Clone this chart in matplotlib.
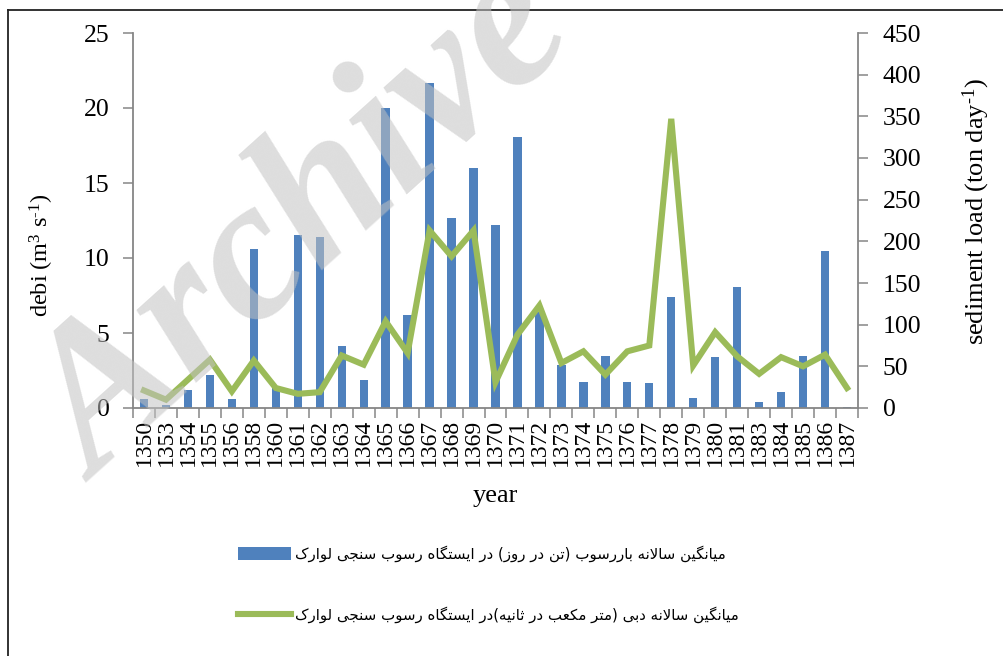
import matplotlib
matplotlib.use("Agg")
import matplotlib.pyplot as plt
from matplotlib.lines import Line2D
import numpy as np

# ---------------- data ----------------
years = ["1350", "1353", "1354", "1355", "1356", "1358", "1360", "1361", "1362",
         "1363", "1364", "1365", "1366", "1367", "1368", "1369", "1370", "1371",
         "1372", "1373", "1374", "1375", "1376", "1377", "1378", "1379", "1380",
         "1381", "1383", "1384", "1385", "1386", "1387"]

# blue bars (read on the left axis)
bar_values = [0.62, 0.22, 1.22, 2.22, 0.6, 10.62, 1.5, 11.51, 11.4,
              4.11, 1.89, 20.0, 6.18, 21.64, 12.67, 16.02, 12.22, 18.1,
              6.4, 2.89, 1.71, 3.44, 1.76, 1.69, 7.4, 0.69, 3.38,
              8.07, 0.42, 1.09, 3.44, 10.47, 0.09]

# green line (read on the right axis)
line_values = [21, 10, 34, 58, 20, 57, 24, 17, 19,
               63, 52, 104, 66, 213, 182, 213, 31, 88,
               123, 54, 68, 40, 68, 75, 347, 51, 91,
               62, 41, 61, 50, 64, 24]

legend_labels = ["میانگین سالانه باررسوب (تن در روز) در ایستگاه رسوب سنجی لوارک",
                 "میانگین سالانه دبی (متر مکعب در ثانیه)در ایستگاه رسوب سنجی لوارک"]

left_label = r"debi (m$^{3}$ s$^{\text{-}1}$)"
right_label = r"sediment load (ton day$^{\text{-}1}$)"
x_label = "year"

# ---------------- Persian shaping (presentation forms, visual order) ----------------
FORMS = {
    'ا': ('\uFE8D', '\uFE8E', None, None),
    'ب': ('\uFE8F', '\uFE90', '\uFE91', '\uFE92'),
    'ت': ('\uFE95', '\uFE96', '\uFE97', '\uFE98'),
    'ث': ('\uFE99', '\uFE9A', '\uFE9B', '\uFE9C'),
    'ج': ('\uFE9D', '\uFE9E', '\uFE9F', '\uFEA0'),
    'د': ('\uFEA9', '\uFEAA', None, None),
    'ر': ('\uFEAD', '\uFEAE', None, None),
    'ز': ('\uFEAF', '\uFEB0', None, None),
    'س': ('\uFEB1', '\uFEB2', '\uFEB3', '\uFEB4'),
    'ع': ('\uFEC9', '\uFECA', '\uFECB', '\uFECC'),
    'ل': ('\uFEDD', '\uFEDE', '\uFEDF', '\uFEE0'),
    'م': ('\uFEE1', '\uFEE2', '\uFEE3', '\uFEE4'),
    'ن': ('\uFEE5', '\uFEE6', '\uFEE7', '\uFEE8'),
    'ه': ('\uFEE9', '\uFEEA', '\uFEEB', '\uFEEC'),
    'و': ('\uFEED', '\uFEEE', None, None),
    'ی': ('\uFBFC', '\uFBFD', '\uFBFE', '\uFBFF'),
    'ک': ('\uFB8E', '\uFB8F', '\uFB90', '\uFB91'),
    'گ': ('\uFB92', '\uFB93', '\uFB94', '\uFB95'),
}


def shape_fa(s):
    out = []
    n = len(s)
    i = 0
    prev_join = False
    while i < n:
        c = s[i]
        if c == 'ل' and i + 1 < n and s[i + 1] == 'ا':
            out.append('\uFEFC' if prev_join else '\uFEFB')
            prev_join = False
            i += 2
            continue
        if c in FORMS:
            iso, fin, ini, med = FORMS[c]
            nxt = s[i + 1] if i + 1 < n else ''
            next_join = ini is not None and nxt in FORMS
            if prev_join and next_join:
                g = med
            elif prev_join:
                g = fin
            elif next_join:
                g = ini
            else:
                g = iso
            out.append(g)
            prev_join = next_join
        else:
            out.append(c)
            prev_join = False
        i += 1
    vis = ''.join(reversed(out))
    return vis.translate(str.maketrans('()', ')('))


# ---------------- style ----------------
plt.rcParams['font.family'] = ['Liberation Serif', 'DejaVu Serif']
plt.rcParams['mathtext.fontset'] = 'custom'
plt.rcParams['mathtext.rm'] = 'Liberation Serif'
plt.rcParams['mathtext.it'] = 'Liberation Serif:italic'
plt.rcParams['mathtext.bf'] = 'Liberation Serif:bold'

W, H = 1004, 656
fig = plt.figure(figsize=(W / 100, H / 100), dpi=100)

ax = fig.add_axes([133 / W, 1 - 408 / H, 725 / W, 375 / H])
ax2 = ax.twinx()

x = np.arange(len(years))
bar_color = '#4F81BD'
line_color = '#9BBB59'
spine_color = '#868686'

bars = ax.bar(x, bar_values, width=0.38, color=bar_color, zorder=2)
line, = ax2.plot(x, line_values, color=line_color, lw=4.4, solid_joinstyle='miter', zorder=3)

ax.set_xlim(-0.5, len(years) - 0.5)
ax.set_ylim(0, 25)
ax.set_yticks(np.arange(0, 26, 5))
ax2.set_ylim(0, 450)
ax2.set_yticks(np.arange(0, 451, 50))

# x ticks at boundaries, labels at centres
ax.set_xticks(np.arange(-0.5, len(years), 1.0))
ax.set_xticklabels([])
ax.set_xticks(x, minor=True)
ax.set_xticklabels(years, minor=True, rotation=90, fontsize=17)
ax.tick_params(axis='x', which='major', length=7, width=1.1, color=spine_color, direction='out')
ax.tick_params(axis='x', which='minor', length=0, pad=8)

ax.tick_params(axis='y', length=7, width=1.1, color=spine_color, direction='out', labelsize=18.5, pad=10)
ax2.tick_params(axis='y', length=7, width=1.1, color=spine_color, direction='out', labelsize=18.5, pad=11)

for a in (ax, ax2):
    a.spines['top'].set_visible(False)
    for s in ('left', 'right', 'bottom'):
        a.spines[s].set_color(spine_color)
        a.spines[s].set_linewidth(1.3)
ax.spines['right'].set_visible(False)
ax2.spines['left'].set_visible(False)
ax2.spines['bottom'].set_visible(False)

ax.set_ylabel(left_label, fontsize=17.5)
ax.yaxis.set_label_coords((56 - 133) / 725, 0.408)
ax2.set_ylabel(right_label, fontsize=19)
ax2.yaxis.set_label_coords((961 - 133) / 725, 0.525)
ax.set_xlabel(x_label, fontsize=19)
ax.xaxis.set_label_coords(0.5, -(485 - 408) / 375)

# legend
fig.legend(handles=[bars, line], labels=[shape_fa(t) for t in legend_labels],
           loc='upper left', bbox_to_anchor=(238 / W, 1 - 545 / H),
           frameon=False, prop={'family': ['DejaVu Sans'], 'size': 10.8},
           handlelength=3.5, handleheight=1.0, handletextpad=0.3,
           labelspacing=3.0, borderpad=0, borderaxespad=0)

# outer frame
fig.add_artist(Line2D([8.5 / W, 8.5 / W], [0, 1 - 10 / H], transform=fig.transFigure,
                      color='#222222', lw=1.3))
fig.add_artist(Line2D([8.5 / W, 1], [1 - 10 / H, 1 - 10 / H], transform=fig.transFigure,
                      color='#222222', lw=1.3))

# watermark
fig.text(306 / W, 1 - 228 / H, 'Archive', rotation=42, fontsize=146,
         family='Liberation Serif', weight='bold', style='italic',
         color=(0.76, 0.76, 0.76), alpha=0.55, ha='center', va='center',
         rotation_mode='anchor', zorder=10)

fig.savefig('out.png', dpi=100)
